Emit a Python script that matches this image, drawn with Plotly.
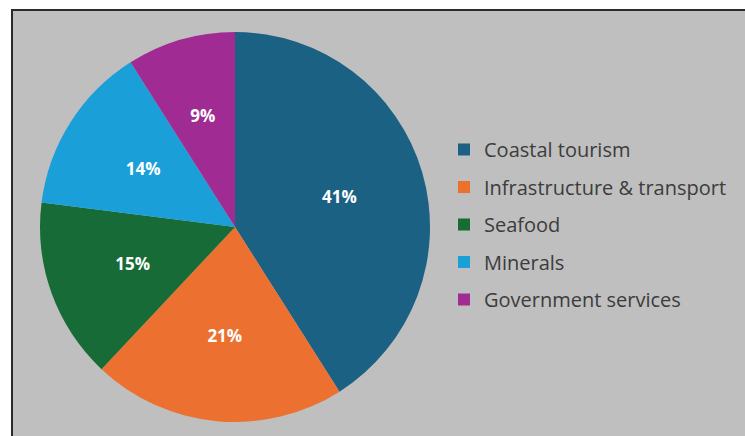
import plotly.graph_objects as go

categories = ["Coastal tourism", "Infrastructure & transport", "Seafood", "Minerals", "Government services"]
values = [41, 21, 15, 14, 9]
colors = ["#1b6184", "#ec7030", "#176b37", "#1b9fd8", "#a02b93"]

W, H = 745, 436
CX, CY, R = 235, 227, 195  # pie centre / radius in pixels
RL = 148                    # radius of transparent label ring

def dom(r):
    return dict(x=[(CX - r) / W, (CX + r) / W], y=[(H - CY - r) / H, (H - CY + r) / H])

fig = go.Figure()

fig.add_trace(go.Pie(
    labels=categories, values=values, sort=False, direction="clockwise", rotation=0,
    marker=dict(colors=colors, line=dict(width=0)),
    textinfo="none", showlegend=False, hoverinfo="label+percent",
    domain=dom(R),
))

# transparent ring only carrying the percentage labels
fig.add_trace(go.Pie(
    labels=categories, values=values, sort=False, direction="clockwise", rotation=0,
    hole=0.47,
    marker=dict(colors=["rgba(0,0,0,0)"] * len(values), line=dict(width=0)),
    texttemplate="%{value}%", textposition="inside", insidetextorientation="horizontal",
    textfont=dict(family="Open Sans", size=17, color="white", weight="bold"),
    showlegend=False, hoverinfo="skip",
    domain=dom(RL),
))

for cat, col in zip(categories, colors):
    fig.add_trace(go.Scatter(
        x=[None], y=[None], mode="markers", name=cat,
        marker=dict(symbol="square", size=12, color=col),
        legendgroup=cat, showlegend=True,
    ))

fig.update_layout(
    width=W, height=H,
    margin=dict(l=0, r=0, t=0, b=0),
    paper_bgcolor="white",
    plot_bgcolor="rgba(0,0,0,0)",
    xaxis=dict(visible=False, domain=[0.6, 0.61]),
    yaxis=dict(visible=False, domain=[0.5, 0.51]),
    font=dict(family="Open Sans", color="#3c3c3c"),
    legend=dict(
        x=444 / W, y=(H - 130) / H, xanchor="left", yanchor="top",
        bgcolor="rgba(0,0,0,0)",
        font=dict(family="Open Sans", size=20, color="#3c3c3c"),
        tracegroupgap=8.5,
        itemwidth=30,
        traceorder="grouped",
    ),
    shapes=[dict(
        type="rect", xref="paper", yref="paper",
        x0=12 / W, x1=1.02, y0=-0.02, y1=(H - 10) / H,
        fillcolor="#bfbfbf", line=dict(color="#2a2a2a", width=2),
        layer="below",
    )],
)

fig.write_html("out.html")
